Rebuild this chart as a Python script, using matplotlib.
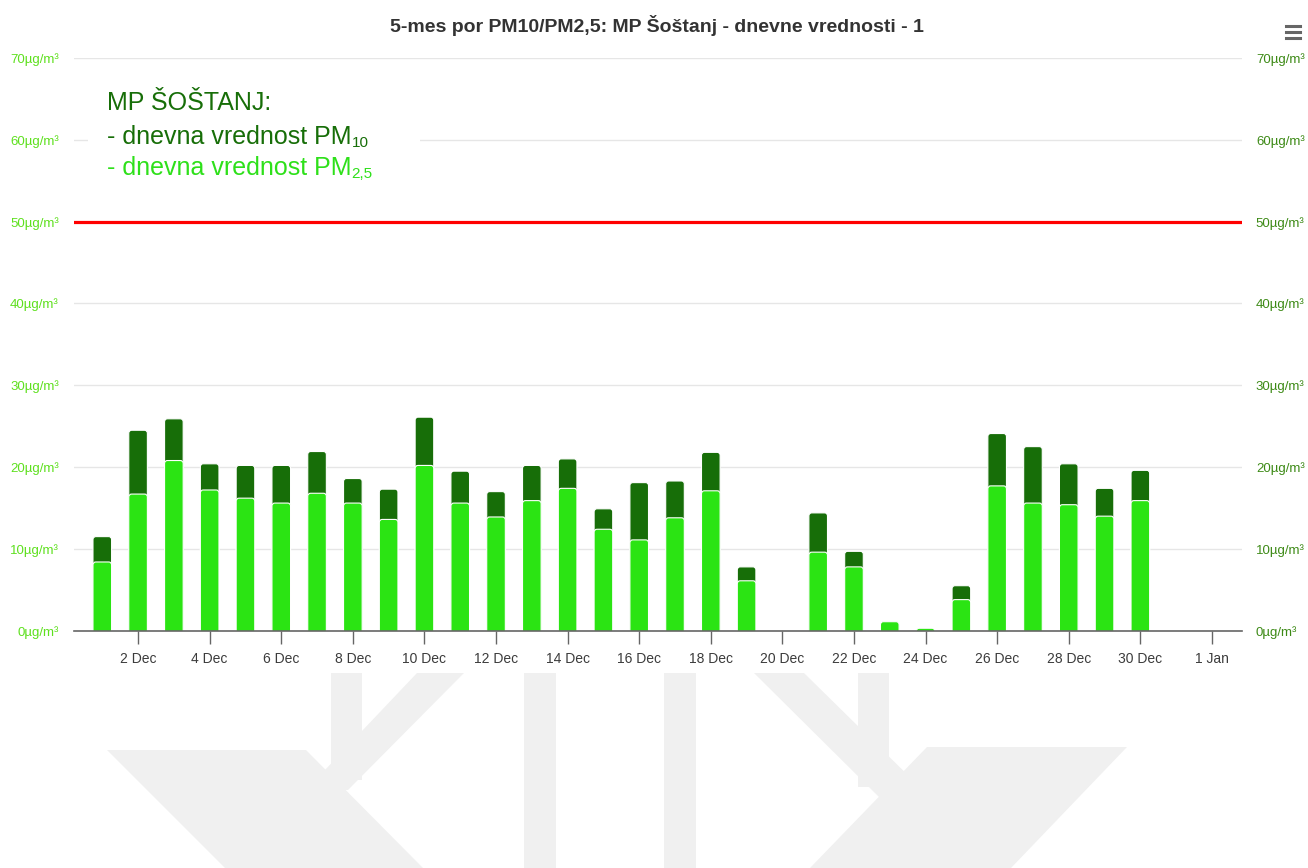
import matplotlib
matplotlib.use("Agg")
import matplotlib.pyplot as plt
import matplotlib.dates as mdates
from matplotlib.patches import Polygon, Rectangle, FancyBboxPatch
from matplotlib.lines import Line2D
import numpy as np

W, H = 1308, 868
plt.rcParams["font.family"] = ["Liberation Sans", "DejaVu Sans"]

# daily values, December (µg/m³)
days = np.arange("2023-12-01", "2023-12-31", dtype="datetime64[D]")
pm10 = [11.5, 24.5, 25.9, 20.4, 20.2, 20.2, 21.9, 18.6, 17.3, 26.1,
        19.5, 17.0, 20.2, 21.0, 14.9, 18.1, 18.3, 21.8, 7.8, 0.0,
        14.4, 9.7, 1.1, 0.3, 5.5, 24.1, 22.5, 20.4, 17.4, 19.6]
pm25 = [8.4, 16.7, 20.8, 17.2, 16.2, 15.6, 16.8, 15.6, 13.6, 20.2,
        15.6, 13.9, 15.9, 17.4, 12.4, 11.1, 13.8, 17.1, 6.1, 0.0,
        9.6, 7.8, 1.1, 0.3, 3.8, 17.7, 15.6, 15.4, 14.0, 15.9]
limit = 50
xticks = np.arange("2023-12-02", "2024-01-02", 2, dtype="datetime64[D]")
yticks = [0, 10, 20, 30, 40, 50, 60, 70]

DARK = "#176e08"
LIGHT = "#2be413"
LIGHT_TXT = "#2ee01a"

def px(x, y):
    return x / W, 1 - y / H

fig = plt.figure(figsize=(W / 100, H / 100), dpi=100)

# watermark logo (light grey shapes under the plot)
wm = [
    [(107, 750), (306, 750), (423, 868), (225, 868)],
    [(331, 673), (362, 673), (362, 780), (331, 780)],
    [(417, 673), (464, 673), (348, 790), (306, 790)],
    [(524, 673), (556, 673), (556, 868), (524, 868)],
    [(664, 673), (696, 673), (696, 868), (664, 868)],
    [(858, 673), (889, 673), (889, 787), (858, 787)],
    [(754, 673), (804, 673), (923, 790), (879, 797)],
    [(927, 747), (1127, 747), (1011, 868), (810, 868)],
]
for pts in wm:
    fig.add_artist(Polygon([px(*p) for p in pts], closed=True, transform=fig.transFigure,
                           facecolor="#f0f0f0", edgecolor="none", zorder=0))

ax = fig.add_axes([74 / W, 1 - 630.7 / H, (1242 - 74) / W, (630.7 - 58) / H])
ax.set_axisbelow(True)
x = mdates.date2num(days)
bars10 = ax.bar(x, pm10, 0.52, color=DARK, zorder=2)
bars25 = ax.bar(x, pm25, 0.52, color=LIGHT, zorder=2.1)

# rounded tops like the original (corners below zero get clipped)
for bars, col, z in ((bars10, DARK, 2), (bars25, LIGHT, 2.1)):
    for b in bars:
        b.set_visible(False)
        if b.get_height() <= 0:
            continue
        ax.add_patch(FancyBboxPatch((b.get_x(), -0.6), b.get_width(), b.get_height() + 0.6,
                                    boxstyle="round,pad=0,rounding_size=0.08",
                                    mutation_aspect=4.6, facecolor=col,
                                    edgecolor="white", linewidth=0.8, zorder=z))

ax.axhline(limit, color="#ff0000", lw=2.3, zorder=3)

ax.set_ylim(0, 70)
ax.set_xlim(mdates.date2num(np.datetime64("2023-12-01")) - 0.79,
            mdates.date2num(np.datetime64("2024-01-01")) + 0.84)
ax.set_yticks(yticks)
ax.set_yticklabels([f"{v}µg/m³" for v in yticks], fontsize=9.5, color="#5ee01e")
ax.tick_params(axis="y", length=0, pad=11)
ax.set_xticks(mdates.date2num(xticks))
ax.xaxis.set_major_formatter(mdates.DateFormatter("%-d %b"))
ax.tick_params(axis="x", length=9, width=1, color="#666666", labelsize=10,
               labelcolor="#3c3c3c", pad=6)
ax.grid(axis="y", color="#e6e6e6", lw=1)
for s in ["top", "right", "left"]:
    ax.spines[s].set_visible(False)
ax.spines["bottom"].set_color("#666666")
ax.spines["bottom"].set_linewidth(1.2)
ax.spines["bottom"].set_zorder(4)

ax2 = ax.twinx()
ax2.set_ylim(0, 70)
ax2.set_yticks(yticks)
ax2.set_yticklabels([f"{v}µg/m³" for v in yticks], fontsize=9.5, color="#3d8a16")
ax2.tick_params(axis="y", length=0, pad=10)
for s in ax2.spines.values():
    s.set_visible(False)

# title
fig.text(*px(657, 32), "5-mes por PM10/PM2,5: MP Šoštanj - dnevne vrednosti - 1",
         ha="center", va="baseline", fontsize=14, fontweight="bold", color="#333333")

# hamburger menu icon
for yy in (26, 32, 38):
    fig.add_artist(Line2D([1286 / W, 1300 / W], [1 - yy / H, 1 - yy / H],
                          color="#666666", lw=2.2, transform=fig.transFigure))

# in-plot label block
fig.add_artist(Rectangle(px(88, 190), 332 / W, 105 / H, transform=fig.transFigure,
                         facecolor="white", edgecolor="none", zorder=1))
fig.text(*px(107, 110), "MP ŠOŠTANJ:", fontsize=18, color=DARK, va="baseline", zorder=5)
t2 = fig.text(*px(107, 144), "- dnevna vrednost PM", fontsize=18, color=DARK,
              va="baseline", zorder=5)
t3 = fig.text(*px(107, 175), "- dnevna vrednost PM", fontsize=18, color=LIGHT_TXT,
              va="baseline", zorder=5)

fig.canvas.draw()
r = fig.canvas.get_renderer()
for t, sub, col in ((t2, "10", DARK), (t3, "2,5", LIGHT_TXT)):
    bb = t.get_window_extent(r)
    fig.text(bb.x1 / W, t.get_position()[1] - 3 / H, sub, fontsize=11, color=col,
             va="baseline", zorder=5)

fig.savefig("out.png", dpi=100)
